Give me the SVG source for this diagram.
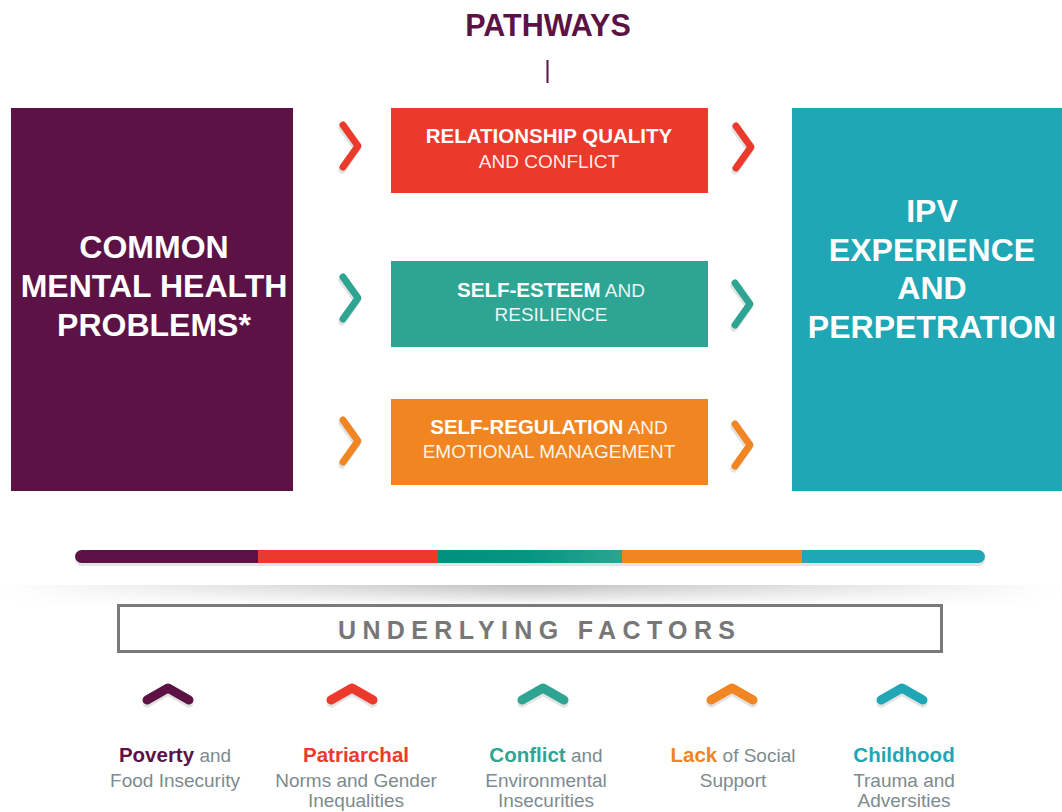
<svg xmlns="http://www.w3.org/2000/svg" width="1062" height="812" viewBox="0 0 1062 812">
<defs>
<style>
.t{font-family:"Liberation Sans",Arial,sans-serif}
.b{font-weight:bold}
.wb{fill:#fff;font-weight:bold;font-family:"Liberation Sans",Arial,sans-serif}
.mid{font-family:"Liberation Sans",Arial,sans-serif;fill:#fff;text-anchor:middle}
.lt{fill:#fff;fill-opacity:0.92;font-weight:normal}
.chev{fill:none;stroke-width:7;stroke-linecap:round;stroke-linejoin:round}
.up{fill:none;stroke-width:9;stroke-linecap:round;stroke-linejoin:round}
.sh{stroke:#e2e2e2}
.fac{font-family:"Liberation Sans",Arial,sans-serif;font-size:19px;fill:#7d8b8e;text-anchor:middle}
.fb{font-weight:bold;font-size:20.5px}
</style>
<linearGradient id="tealg" x1="0" x2="1" y1="0" y2="0">
<stop offset="0" stop-color="#00907d"/>
<stop offset="0.5" stop-color="#079582"/>
<stop offset="1" stop-color="#2aa592"/>
</linearGradient>
<linearGradient id="shh" x1="0" x2="1" y1="0" y2="0">
<stop offset="0" stop-color="#fff"/>
<stop offset="0.5" stop-color="#bdbdbd"/>
<stop offset="1" stop-color="#fff"/>
</linearGradient>
<linearGradient id="shv" x1="0" x2="0" y1="0" y2="1">
<stop offset="0" stop-color="#fff"/>
<stop offset="1" stop-color="#000"/>
</linearGradient>
<mask id="shm" maskUnits="userSpaceOnUse" x="0" y="584" width="1062" height="24">
<rect x="0" y="584" width="1062" height="22" fill="url(#shv)"/>
</mask>
</defs>
<rect width="1062" height="812" fill="#fff"/>

<g id="title">
<text class="t b" x="548" y="36" font-size="30.5" fill="#5c1245" text-anchor="middle">PATHWAYS</text>
<rect x="546.5" y="60" width="2" height="23" fill="#5c1245"/>
</g>

<g id="node-mental">
<rect x="11" y="108" width="282" height="383" fill="#5c1245"/>
<text class="wb" font-size="32" text-anchor="middle"><tspan x="154" y="258">COMMON</tspan><tspan x="154" y="297">MENTAL HEALTH</tspan><tspan x="154" y="336">PROBLEMS*</tspan></text>
</g>

<g id="node-ipv">
<rect x="792" y="108" width="270" height="383" fill="#1fa7b5"/>
<text class="wb" font-size="32" text-anchor="middle"><tspan x="932" y="222">IPV</tspan><tspan x="932" y="261">EXPERIENCE</tspan><tspan x="932" y="299">AND</tspan><tspan x="932" y="338">PERPETRATION</tspan></text>
</g>

<g id="node-relationship">
<rect x="391" y="108" width="317" height="85" fill="#eb3a2b"/>
<text class="mid b" x="549" y="143" font-size="20.5">RELATIONSHIP QUALITY</text>
<text class="mid lt" x="549" y="168" font-size="19">AND CONFLICT</text>
</g>

<g id="node-selfesteem">
<rect x="391" y="261" width="317" height="86" fill="#2ea593"/>
<text class="mid" x="551" y="297" font-size="20.5"><tspan font-weight="bold">SELF-ESTEEM</tspan><tspan class="lt" font-size="19"> AND</tspan></text>
<text class="mid lt" x="551" y="321" font-size="19">RESILIENCE</text>
</g>

<g id="node-selfregulation">
<rect x="391" y="399" width="317" height="86" fill="#f08522"/>
<text class="mid" x="549" y="434" font-size="20.5"><tspan font-weight="bold">SELF-REGULATION</tspan><tspan class="lt" font-size="19"> AND</tspan></text>
<text class="mid lt" x="549" y="458" font-size="19">EMOTIONAL MANAGEMENT</text>
</g>

<g id="connectors">
<polyline class="chev sh" points="342,128 357,149 342,170"/>
<polyline class="chev" stroke="#eb3a2b" points="343,125 358,146 343,167"/>
<polyline class="chev sh" points="735,129 750,150 735,171"/>
<polyline class="chev" stroke="#eb3a2b" points="736,126 751,147 736,168"/>

<polyline class="chev sh" points="342,280 357,301 342,322"/>
<polyline class="chev" stroke="#2ea593" points="343,277 358,298 343,319"/>
<polyline class="chev sh" points="734,286 749,307 734,328"/>
<polyline class="chev" stroke="#2ea593" points="735,283 750,304 735,325"/>

<polyline class="chev sh" points="342,423 357,444 342,465"/>
<polyline class="chev" stroke="#f08522" points="343,420 358,441 343,462"/>
<polyline class="chev sh" points="734,427 749,448 734,469"/>
<polyline class="chev" stroke="#f08522" points="735,424 750,445 735,466"/>
</g>

<g id="bar">
<rect x="75" y="553" width="910" height="13" rx="6.5" fill="#e4e4e4"/>
<path d="M81.5,550 H258 V563 H81.5 A6.5,6.5 0 0 1 81.5,550 Z" fill="#5c1245"/>
<rect x="258" y="550" width="180" height="13" fill="#eb3a2b"/>
<rect x="438" y="550" width="184" height="13" fill="url(#tealg)"/>
<rect x="622" y="550" width="180" height="13" fill="#f08522"/>
<path d="M802,550 H978.5 A6.5,6.5 0 0 1 978.5,563 H802 Z" fill="#1fa7b5"/>
<rect x="0" y="585" width="1062" height="21" fill="url(#shh)" mask="url(#shm)"/>
</g>

<g id="underlying-factors">
<rect x="118.5" y="605.5" width="823" height="46" fill="#fff" stroke="#7a7a7a" stroke-width="3"/>
<text class="t b" x="338" y="639" font-size="25" fill="#777" textLength="397" lengthAdjust="spacing">UNDERLYING FACTORS</text>
</g>

<g id="factor-poverty">
<polyline class="up sh" points="147,703 168,691 189,703"/>
<polyline class="up" stroke="#5c1245" points="147,700 168,688 189,700"/>
<text class="fac" x="175" y="762"><tspan class="fb" fill="#5c1245">Poverty</tspan> and</text>
<text class="fac" x="175" y="787">Food Insecurity</text>
</g>

<g id="factor-patriarchal">
<polyline class="up sh" points="331,703 352,691 373,703"/>
<polyline class="up" stroke="#eb3a2b" points="331,700 352,688 373,700"/>
<text class="fac" x="356" y="762"><tspan class="fb" fill="#eb3a2b">Patriarchal</tspan></text>
<text class="fac" x="356" y="787">Norms and Gender</text>
<text class="fac" x="356" y="807">Inequalities</text>
</g>

<g id="factor-conflict">
<polyline class="up sh" points="522,703 543,691 564,703"/>
<polyline class="up" stroke="#2ea593" points="522,700 543,688 564,700"/>
<text class="fac" x="546" y="762"><tspan class="fb" fill="#2ea593">Conflict</tspan> and</text>
<text class="fac" x="546" y="787">Environmental</text>
<text class="fac" x="546" y="807">Insecurities</text>
</g>

<g id="factor-lack">
<polyline class="up sh" points="711,703 732,691 753,703"/>
<polyline class="up" stroke="#f08522" points="711,700 732,688 753,700"/>
<text class="fac" x="733" y="762"><tspan class="fb" fill="#f08522">Lack</tspan> of Social</text>
<text class="fac" x="733" y="787">Support</text>
</g>

<g id="factor-childhood">
<polyline class="up sh" points="881,703 902,691 923,703"/>
<polyline class="up" stroke="#1fa7b5" points="881,700 902,688 923,700"/>
<text class="fac" x="904" y="762"><tspan class="fb" fill="#1fa7b5">Childhood</tspan></text>
<text class="fac" x="904" y="787">Trauma and</text>
<text class="fac" x="904" y="807">Adversities</text>
</g>
</svg>
